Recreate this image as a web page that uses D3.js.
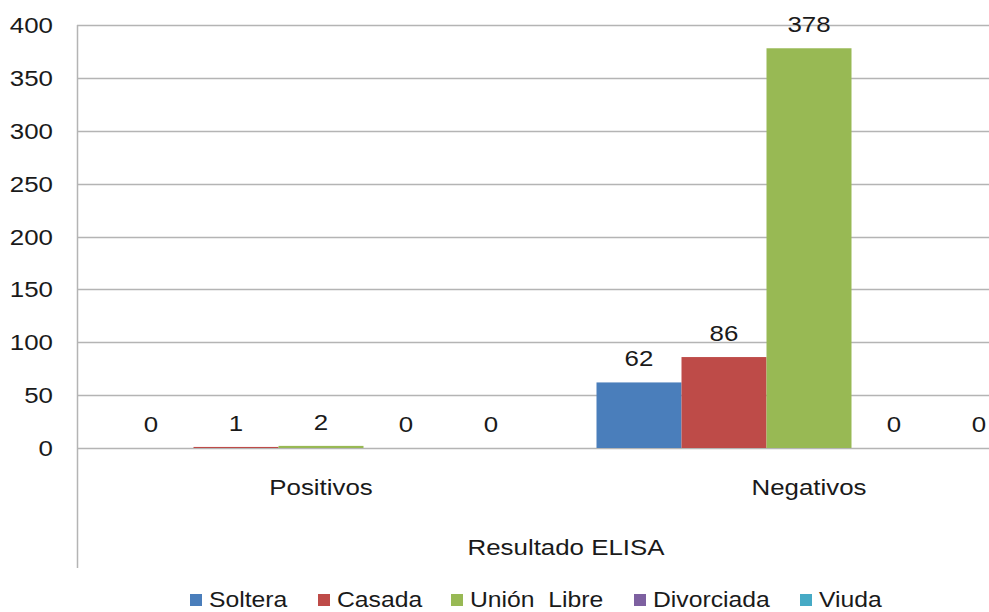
<!DOCTYPE html>
<html><head><meta charset="utf-8">
<script src="https://cdn.jsdelivr.net/npm/d3@7"></script>
<style>
body{margin:0;background:#fff;}
svg{display:block;font-family:"Liberation Sans",Arial,sans-serif;}
text{white-space:pre;}
</style></head>
<body>
<svg id="chart" width="989" height="612"></svg>
<script>
const categories = ["Positivos", "Negativos"];
const seriesNames = ["Soltera", "Casada", "Unión  Libre", "Divorciada", "Viuda"];
const soltera = [0, 62];
const casada = [1, 86];
const unionLibre = [2, 378];
const divorciada = [0, 0];
const viuda = [0, 0];
const yTicks = [0, 50, 100, 150, 200, 250, 300, 350, 400];
const colors = ["#4a7ebb", "#be4b48", "#98b954", "#7d60a0", "#46aac5"];
const axisTitle = "Resultado ELISA";

const seriesValues = [soltera, casada, unionLibre, divorciada, viuda];
const svg = d3.select("#chart");
const FS = 22.5, SX = 1.15;

const x0 = d3.scaleBand().domain(categories).range([77, 1053]).paddingInner(0).paddingOuter(0);
const x1 = d3.scaleBand().domain(seriesNames).range([31.5, x0.bandwidth() - 31.5]).padding(0);
const y = d3.scaleLinear().domain([0, 400]).range([448, 25]);

function stext(g, x, yy, str, anchor, fs) {
  return g.append("text").attr("transform", `translate(${x},${yy}) scale(${SX},1)`)
    .attr("text-anchor", anchor || "middle").attr("font-size", fs || FS).attr("fill", "#1a1a1a").text(str);
}

// gridlines
svg.append("g").selectAll("line").data(yTicks).join("line")
  .attr("x1", 77).attr("x2", 989).attr("y1", d => Math.round(y(d)) + 0.5).attr("y2", d => Math.round(y(d)) + 0.5)
  .attr("stroke", "#b4b4b4").attr("stroke-width", 1.5);
// vertical axis line
svg.append("line").attr("x1", 77.5).attr("x2", 77.5).attr("y1", 25).attr("y2", 568)
  .attr("stroke", "#b4b4b4").attr("stroke-width", 1.5);

// y tick labels
const yl = svg.append("g");
yTicks.forEach(t => stext(yl, 53, y(t) + 8, String(t), "end"));

// bars
const bars = svg.append("g");
categories.forEach((c, ci) => {
  seriesNames.forEach((s, si) => {
    const v = seriesValues[si][ci];
    const bx = x0(c) + x1(s);
    bars.append("rect").attr("x", bx).attr("y", y(v)).attr("width", x1.bandwidth())
      .attr("height", y(0) - y(v)).attr("fill", colors[si]);
    stext(bars, bx + x1.bandwidth() / 2, y(v) - 16, String(v), "middle");
  });
});

// category labels
categories.forEach(c => stext(svg, x0(c) + x0.bandwidth() / 2, 495, c, "middle"));
stext(svg, 566, 555, axisTitle, "middle");

// legend
const legendX = [190, 318, 451, 634, 800];
const lg = svg.append("g");
seriesNames.forEach((s, i) => {
  lg.append("rect").attr("x", legendX[i]).attr("y", 594).attr("width", 12).attr("height", 12).attr("fill", colors[i]);
  stext(lg, legendX[i] + 19, 607, s, "start", 21.5);
});
</script>
</body></html>
